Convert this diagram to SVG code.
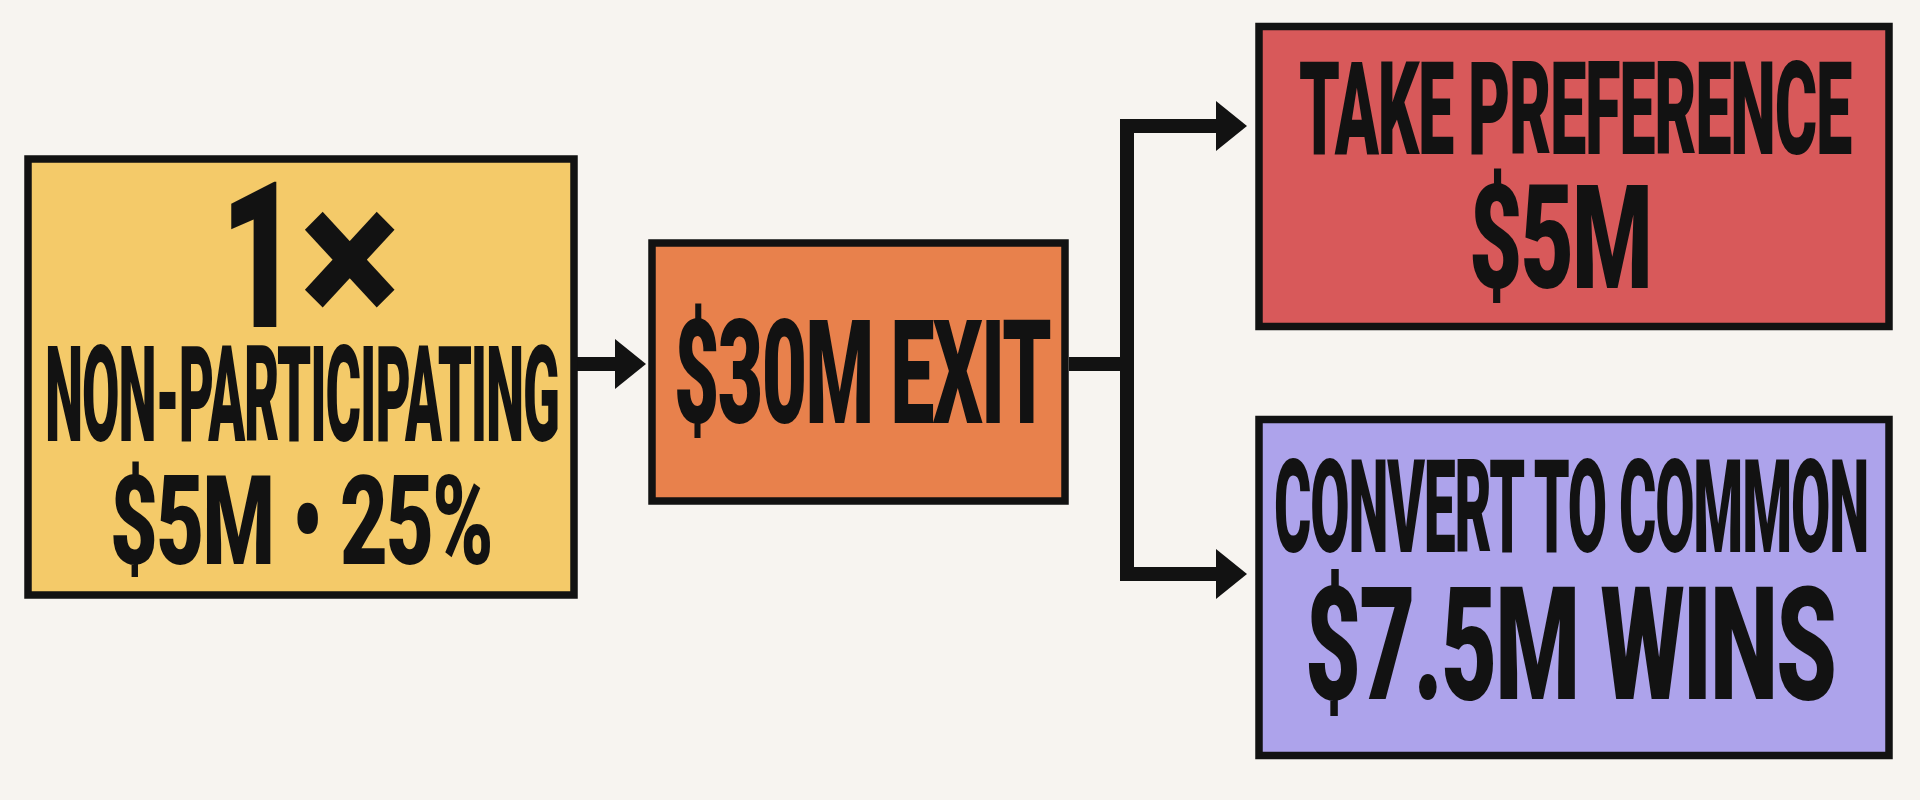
<svg xmlns="http://www.w3.org/2000/svg" width="1920" height="800" viewBox="0 0 1920 800">
<style>
.box{stroke:#121212;stroke-width:7.5}
.t{font-family:Roboto,"Liberation Sans",Arial,sans-serif;font-weight:900;fill:#121212;text-anchor:middle}
.s{letter-spacing:-0.02em}
.c{fill:none;stroke:#121212;stroke-width:14;stroke-linejoin:miter}
</style>
<defs>
<marker id="ah" markerUnits="userSpaceOnUse" viewBox="0 0 32 50" markerWidth="32" markerHeight="50" refX="1" refY="25" orient="auto-start-reverse">
<path d="M0,0 L31,25 L0,50 z" fill="#121212"/>
</marker>
</defs>
<rect width="1920" height="800" fill="#F7F4F0"/>
<g id="connectors">
<path class="c" d="M577 364 H616" marker-end="url(#ah)"/>
<path class="c" d="M1069 364 H1127"/>
<path class="c" d="M1217 126 H1127 V574 H1217" marker-start="url(#ah)" marker-end="url(#ah)"/>
</g>
<g id="node-preference">
<rect class="box" x="28" y="159" width="546" height="436" fill="#F4CA69"/>
<text class="t" x="260" y="327" font-size="205" textLength="80" lengthAdjust="spacingAndGlyphs">1</text>
<text class="t" x="350" y="327" font-size="200" textLength="100" lengthAdjust="spacingAndGlyphs">×</text>
<text class="t s" x="302" y="441" font-size="133" textLength="514" lengthAdjust="spacingAndGlyphs">NON-PARTICIPATING</text>
<text class="t s" x="301" y="564" font-size="124" textLength="382" lengthAdjust="spacingAndGlyphs">$5M • 25%</text>
</g>
<g id="node-exit">
<rect class="box" x="652" y="243" width="413" height="258" fill="#E8814C"/>
<text class="t s" x="862" y="423" font-size="145" textLength="376" lengthAdjust="spacingAndGlyphs">$30M EXIT</text>
</g>
<g id="node-take">
<rect class="box" x="1259" y="26.5" width="630" height="300" fill="#D8595A"/>
<text class="t s" x="1575" y="154" font-size="130" textLength="552" lengthAdjust="spacingAndGlyphs">TAKE PREFERENCE</text>
<text class="t s" x="1560" y="288" font-size="145" textLength="182" lengthAdjust="spacingAndGlyphs">$5M</text>
</g>
<g id="node-convert">
<rect class="box" x="1259" y="419.5" width="630" height="336" fill="#ADA3EB"/>
<text class="t s" x="1571" y="552" font-size="130" textLength="594" lengthAdjust="spacingAndGlyphs">CONVERT TO COMMON</text>
<text class="t s" x="1570" y="699" font-size="158" textLength="530" lengthAdjust="spacingAndGlyphs">$7.5M WINS</text>
</g>
</svg>
